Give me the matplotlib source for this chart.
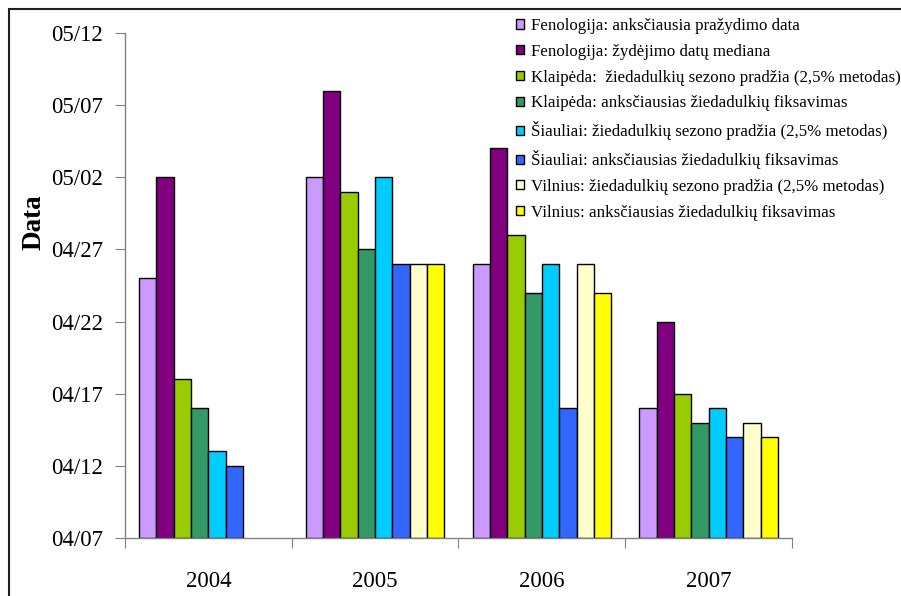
import numpy as np
import matplotlib.pyplot as plt
from matplotlib.patches import Rectangle
from matplotlib.ticker import FixedLocator, FuncFormatter, NullFormatter

plt.rcParams['font.family'] = ['Liberation Serif', 'DejaVu Serif']

years = ['2004', '2005', '2006', '2007']

labels = [
    'Fenologija: anksčiausia pražydimo data',
    'Fenologija: žydėjimo datų mediana',
    'Klaipėda:  žiedadulkių sezono pradžia (2,5% metodas)',
    'Klaipėda: anksčiausias žiedadulkių fiksavimas',
    'Šiauliai: žiedadulkių sezono pradžia (2,5% metodas)',
    'Šiauliai: anksčiausias žiedadulkių fiksavimas',
    'Vilnius: žiedadulkių sezono pradžia (2,5% metodas)',
    'Vilnius: anksčiausias žiedadulkių fiksavimas',
]
colors = ['#CC99FF', '#800080', '#99CC00', '#339966',
          '#00CCFF', '#3366FF', '#FFFFCC', '#FFFF00']

# dates (MM-DD) per series, one per year; None = no observation
fen_earliest   = ['04-25', '05-02', '04-26', '04-16']
fen_median     = ['05-02', '05-08', '05-04', '04-22']
klp_start      = ['04-18', '05-01', '04-28', '04-17']
klp_first      = ['04-16', '04-27', '04-24', '04-15']
sia_start      = ['04-13', '05-02', '04-26', '04-16']
sia_first      = ['04-12', '04-26', '04-16', '04-14']
vln_start      = [None,    '04-26', '04-26', '04-15']
vln_first      = [None,    '04-26', '04-24', '04-14']

series = [fen_earliest, fen_median, klp_start, klp_first,
          sia_start, sia_first, vln_start, vln_first]

base = np.datetime64('2000-04-07')


def to_days(vals):
    return np.array([np.nan if v is None else
                     (np.datetime64('2000-' + v) - base).astype(int)
                     for v in vals], dtype=float)


def day_label(d, pos):
    dt = (base + np.timedelta64(int(round(d)), 'D')).astype(object)
    return dt.strftime('%m/%d')


fig = plt.figure(figsize=(9.01, 5.96), dpi=100)
ax = fig.add_axes([125 / 901, 1 - 538 / 596, 667 / 901, 505 / 596])

x = np.arange(len(years)) + 0.5
w = 0.104
for i, s in enumerate(series):
    ax.bar(x + (i - 3.5) * w, to_days(s), w, color=colors[i],
           edgecolor='black', linewidth=1.0, label=labels[i])

ax.set_xlim(0, len(years))
ax.set_ylim(0, 35)
ax.yaxis.set_major_locator(FixedLocator(np.arange(0, 36, 5)))
ax.yaxis.set_major_formatter(FuncFormatter(day_label))

ax.xaxis.set_major_locator(FixedLocator(np.arange(len(years) + 1)))
ax.xaxis.set_major_formatter(NullFormatter())
ax.xaxis.set_minor_locator(FixedLocator(x))
ax.set_xticklabels(years, minor=True)
ax.tick_params(axis='x', which='minor', length=0, pad=24, labelsize=16.5)
ax.tick_params(axis='x', which='major', length=7, color='#808080', direction='out')
ax.tick_params(axis='y', length=7, color='#808080', pad=9, labelsize=16.5)

for side in ['top', 'right']:
    ax.spines[side].set_visible(False)
for side in ['left', 'bottom']:
    ax.spines[side].set_color('#808080')
    ax.spines[side].set_linewidth(1.0)

ax.set_ylabel('Data', fontsize=19.5, fontweight='bold')
ax.yaxis.set_label_coords(-0.118, 0.626)

fig.legend(loc='upper left', bbox_to_anchor=(516 / 901, 1 - 18 / 596),
           frameon=False, fontsize=12.2, borderpad=0, borderaxespad=0,
           handlelength=0.45, handleheight=0.45, handletextpad=0.45,
           labelspacing=0.58)

# outer chart frame
fig.patches.append(Rectangle((9 / 901, -0.1), 1.2, 1.1 - 9 / 596,
                             transform=fig.transFigure, fill=False,
                             edgecolor='#202020', linewidth=1.5))

fig.savefig('out.png', dpi=100)
